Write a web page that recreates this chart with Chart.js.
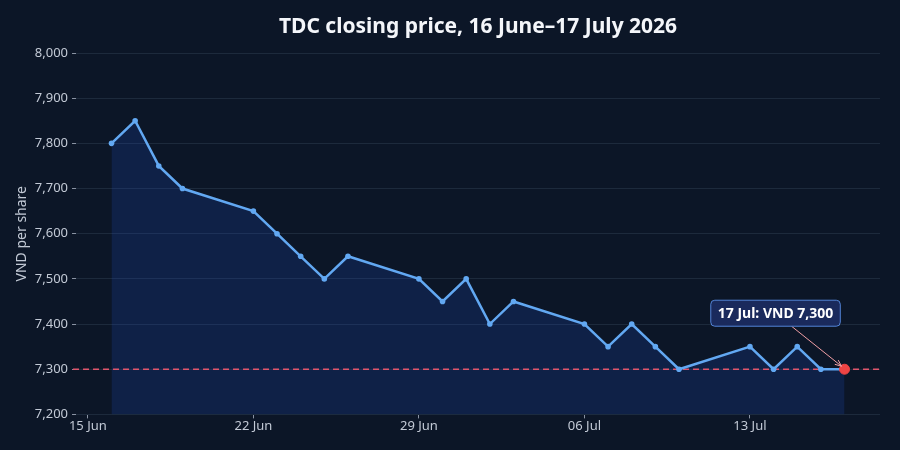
<!DOCTYPE html>
<html>
<head>
<meta charset="utf-8">
<script src="https://cdn.jsdelivr.net/npm/chart.js@4/dist/chart.umd.min.js"></script>
<style>
  html, body { margin: 0; padding: 0; background: #0c1627; }
  #wrap { width: 900px; height: 450px; }
</style>
</head>
<body>
<div id="wrap"><canvas id="c" width="900" height="450"></canvas></div>
<script>
const dates = ['2026-06-16','2026-06-17','2026-06-18','2026-06-19','2026-06-22','2026-06-23','2026-06-24','2026-06-25','2026-06-26','2026-06-29','2026-06-30','2026-07-01','2026-07-02','2026-07-03','2026-07-06','2026-07-07','2026-07-08','2026-07-09','2026-07-10','2026-07-13','2026-07-14','2026-07-15','2026-07-16','2026-07-17'];
const closes = [7800,7850,7750,7700,7650,7600,7550,7500,7550,7500,7450,7500,7400,7450,7400,7350,7400,7350,7300,7350,7300,7350,7300,7300];
const xTickDates = ['2026-06-15','2026-06-22','2026-06-29','2026-07-06','2026-07-13'];
const xTickLabels = ['15 Jun','22 Jun','29 Jun','06 Jul','13 Jul'];
const yTicks = [7200,7300,7400,7500,7600,7700,7800,7900,8000];
const refLevel = 7300;
const titleText = 'TDC closing price, 16 June–17 July 2026';
const annotationText = '17 Jul: VND 7,300';

const DAY = 86400000;
const base = Date.UTC(2026, 5, 15);
const toDay = s => (Date.parse(s + 'T00:00:00Z') - base) / DAY;
const points = dates.map((d, i) => ({x: toDay(d), y: closes[i]}));
const lastPt = points[points.length - 1];
const tickDays = xTickDates.map(toDay);

const FONT = '"Noto Sans", "Open Sans", sans-serif';

const overlay = {
  id: 'overlay',
  beforeDatasetDraw(chart, args) {
    if (args.index !== 1) return;
    const {ctx, chartArea, scales} = chart;
    const y = scales.y.getPixelForValue(refLevel);
    ctx.save();
    ctx.strokeStyle = '#e0566c';
    ctx.lineWidth = 1.5;
    ctx.setLineDash([6, 4]);
    ctx.beginPath();
    ctx.moveTo(chartArea.left - 3, y);
    ctx.lineTo(chartArea.right, y);
    ctx.stroke();
    ctx.restore();
  },
  afterDraw(chart) {
    const {ctx, chartArea} = chart;
    ctx.save();
    ctx.font = 'bold 21px ' + FONT;
    ctx.fillStyle = '#f4f6fa';
    ctx.textAlign = 'center';
    ctx.textBaseline = 'middle';
    ctx.fillText(titleText, (chartArea.left + chartArea.right) / 2, 27);
    ctx.restore();
  },
  afterDatasetsDraw(chart) {
    const {ctx, scales} = chart;
    const px = scales.x.getPixelForValue(lastPt.x);
    const py = scales.y.getPixelForValue(lastPt.y);
    const cx = px - 69, cy = py - 56;
    ctx.save();
    ctx.font = 'bold 14px ' + FONT;
    const tw = ctx.measureText(annotationText).width;
    const w = tw + 14, h = 26;
    const bx = cx - w / 2, by = cy - h / 2;
    // arrow
    const sx = cx + 16, sy = by + h;
    const ex = px - 3, ey = py - 3;
    ctx.strokeStyle = '#f2a0a6';
    ctx.lineWidth = 1;
    ctx.beginPath();
    ctx.moveTo(sx, sy);
    ctx.lineTo(ex, ey);
    ctx.stroke();
    const ang = Math.atan2(ey - sy, ex - sx);
    ctx.beginPath();
    ctx.moveTo(ex, ey);
    ctx.lineTo(ex - 7 * Math.cos(ang - 0.4), ey - 7 * Math.sin(ang - 0.4));
    ctx.moveTo(ex, ey);
    ctx.lineTo(ex - 7 * Math.cos(ang + 0.4), ey - 7 * Math.sin(ang + 0.4));
    ctx.stroke();
    // box
    ctx.beginPath();
    ctx.roundRect(bx, by, w, h, 4);
    ctx.fillStyle = '#1a2a5c';
    ctx.fill();
    ctx.strokeStyle = '#5384d6';
    ctx.lineWidth = 1;
    ctx.stroke();
    ctx.fillStyle = '#ffffff';
    ctx.textAlign = 'center';
    ctx.textBaseline = 'middle';
    ctx.fillText(annotationText, cx, cy + 1);
    ctx.restore();
  }
};

new Chart(document.getElementById('c'), {
  type: 'line',
  data: {
    datasets: [
      {
        label: 'Last close',
        data: [lastPt],
        pointRadius: 5,
        pointHoverRadius: 5,
        pointBackgroundColor: '#ef4444',
        pointBorderColor: '#ef4444',
        showLine: false,
        order: 0
      },
      {
        label: 'TDC close',
        data: points,
        borderColor: '#62a8f2',
        backgroundColor: 'rgba(30, 80, 200, 0.2)',
        borderWidth: 2.5,
        pointRadius: 2.8,
        pointBackgroundColor: '#62a8f2',
        pointBorderWidth: 0,
        fill: 'start',
        tension: 0,
        order: 1
      }
    ]
  },
  options: {
    responsive: false,
    animation: false,
    devicePixelRatio: 1,
    layout: { padding: { left: 8, right: 20, top: 53, bottom: 16 } },
    plugins: {
      legend: { display: false },
      tooltip: { enabled: false },
      title: { display: false }
    },
    scales: {
      x: {
        type: 'linear',
        min: -0.5,
        max: 33.5,
        afterBuildTicks(axis) { axis.ticks = tickDays.map(v => ({value: v})); },
        ticks: {
          color: '#c3cad6',
          font: { family: FONT, size: 13 },
          padding: 0,
          maxRotation: 0,
          callback: (v) => { const i = tickDays.indexOf(v); return i >= 0 ? xTickLabels[i] : ''; }
        },
        grid: { drawOnChartArea: false, drawTicks: true, tickLength: 4, tickColor: '#8a93a3', color: '#1d2738' },
        border: { display: false }
      },
      y: {
        min: 7200,
        max: 8000,
        afterBuildTicks(axis) { axis.ticks = yTicks.map(v => ({value: v})); },
        ticks: {
          color: '#c3cad6',
          font: { family: FONT, size: 13 },
          padding: 4,
          callback: v => v.toLocaleString('en-US')
        },
        grid: { color: '#1d2a3c', lineWidth: 1, drawTicks: true, tickLength: 4, tickColor: '#8a93a3' },
        border: { display: false },
        title: {
          display: true,
          text: 'VND per share',
          color: '#c3cad6',
          font: { family: FONT, size: 14 },
          padding: { top: 6, bottom: 0 }
        }
      }
    }
  },
  plugins: [overlay]
});
</script>
</body>
</html>
